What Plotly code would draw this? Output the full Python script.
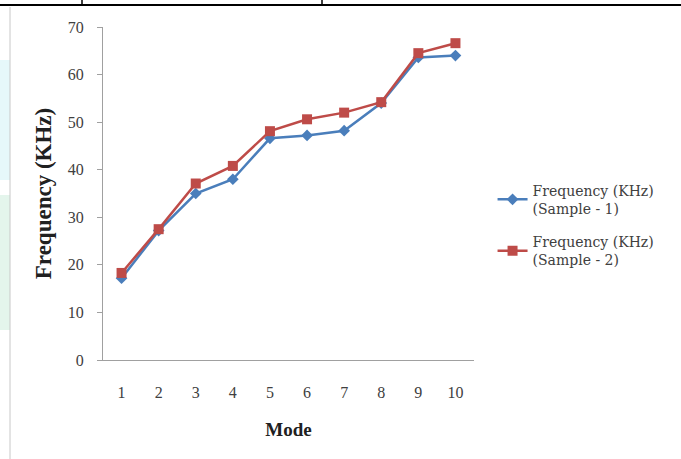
import plotly.graph_objects as go

modes = [1, 2, 3, 4, 5, 6, 7, 8, 9, 10]
sample1 = [17.2, 27.2, 35.0, 38.0, 46.6, 47.2, 48.2, 54.0, 63.6, 64.0]
sample2 = [18.3, 27.5, 37.1, 40.8, 48.1, 50.6, 52.0, 54.2, 64.5, 66.6]
y_ticks = [0, 10, 20, 30, 40, 50, 60, 70]
name1 = "Frequency (KHz)<br>(Sample - 1)"
name2 = "Frequency (KHz)<br>(Sample - 2)"

serif = "Liberation Serif, Times New Roman, serif"
wide_serif = "DejaVu Serif, serif"

fig = go.Figure()
fig.add_trace(go.Scatter(
    x=modes, y=sample1, mode="lines+markers", name=name1, legendgroup="s1",
    line=dict(color="#4A7EBB", width=2.5),
    marker=dict(symbol="diamond", size=9, color="#4A7EBB"),
))
fig.add_trace(go.Scatter(
    x=modes, y=sample2, mode="lines+markers", name=name2, legendgroup="s2",
    line=dict(color="#BE4B48", width=2.5),
    marker=dict(symbol="square", size=10, color="#BE4B48"),
))

px_x = lambda p: (p - 103) / 371
px_y = lambda p: (360 - p) / 333

fig.update_layout(
    width=681, height=459,
    margin=dict(l=103, r=207, t=27, b=99),
    paper_bgcolor="white", plot_bgcolor="white",
    font=dict(family=serif, size=13, color="#404040"),
    showlegend=True,
    legend=dict(x=1.05, y=0.405, xanchor="left", yanchor="middle",
                font=dict(family=wide_serif, size=14, color="#404040"),
                traceorder="grouped", tracegroupgap=12, itemwidth=30,
                bgcolor="rgba(0,0,0,0)"),
    xaxis=dict(
        range=[0.5, 10.5], tickvals=modes, ticktext=[str(m) for m in modes],
        showgrid=False, zeroline=False, showline=True, linecolor="#A0A0A0",
        linewidth=1, ticks="", ticklabelstandoff=18,
        tickfont=dict(family=serif, size=16, color="#404040"),
        title=dict(text="<b>Mode</b>", font=dict(family=serif, size=19, color="#202020"),
                   standoff=22),
    ),
    yaxis=dict(
        range=[0, 70], tickvals=y_ticks, showgrid=False, zeroline=False,
        showline=True, linecolor="#A0A0A0", linewidth=1,
        ticks="outside", ticklen=5, tickcolor="#A0A0A0",
        ticklabelstandoff=10,
        tickfont=dict(family=serif, size=16, color="#404040"),
        title=dict(text="<b>Frequency (KHz)</b>", font=dict(family=serif, size=23, color="#202020"),
                   standoff=9),
    ),
    shapes=[
        dict(type="rect", xref="paper", yref="paper", x0=px_x(0), x1=px_x(10),
             y0=px_y(180), y1=px_y(60), line=dict(width=0), fillcolor="#E6F8FA", layer="below"),
        dict(type="rect", xref="paper", yref="paper", x0=px_x(0), x1=px_x(10),
             y0=px_y(330), y1=px_y(195), line=dict(width=0), fillcolor="#E4F5EC", layer="below"),
        dict(type="line", xref="paper", yref="paper", x0=-0.5, x1=1.6,
             y0=px_y(5), y1=px_y(5), line=dict(color="black", width=2)),
        dict(type="line", xref="paper", yref="paper", x0=px_x(82), x1=px_x(82),
             y0=px_y(5), y1=px_y(-20), line=dict(color="black", width=1.5)),
        dict(type="line", xref="paper", yref="paper", x0=px_x(322), x1=px_x(322),
             y0=px_y(5), y1=px_y(-20), line=dict(color="black", width=1.5)),
        dict(type="line", xref="paper", yref="paper", x0=px_x(10), x1=px_x(10),
             y0=px_y(7), y1=px_y(470), line=dict(color="#C8C8C8", width=1)),
    ],
)

fig.write_html("out.html", config={"displayModeBar": False},
               post_script="document.body.style.margin='0px';")
